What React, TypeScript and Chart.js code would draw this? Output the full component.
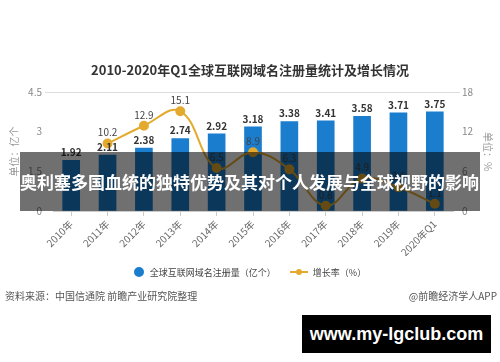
import React, { useEffect, useRef } from "react";
import { Chart, registerables } from "chart.js";

Chart.register(...registerables);

const categories = ["2010年", "2011年", "2012年", "2013年", "2014年", "2015年", "2016年", "2017年", "2018年", "2019年", "2020年Q1"];
const registrations = [1.92, 2.11, 2.38, 2.74, 2.92, 3.18, 3.38, 3.41, 3.58, 3.71, 3.75];
const growthRates = [null, 10.2, 12.9, 15.1, 6.5, 8.9, 6.3, 0.8, 4.9, 3.6, 1.1];
const leftAxis = { min: 0, max: 4.5, step: 1.5 };
const rightAxis = { min: 0, max: 18, step: 6 };

const FONT = "'Noto Sans CJK SC', 'Noto Sans', sans-serif";
const BAR_COLOR = "#1a7dcd";
const LINE_COLOR = "#e3aa2e";

const valueLabels = {
  id: "valueLabels",
  afterDatasetsDraw(chart: any) {
    const ctx = chart.ctx;
    chart.data.datasets.forEach((ds: any, i: number) => {
      const meta = chart.getDatasetMeta(i);
      meta.data.forEach((el: any, j: number) => {
        const v = ds.data[j];
        if (v == null) return;
        ctx.save();
        const isBar = ds.type === "bar";
        ctx.font = isBar ? `bold 10px ${FONT}` : `10px ${FONT}`;
        ctx.fillStyle = isBar ? "#333333" : "#444444";
        ctx.textAlign = "center";
        ctx.textBaseline = "bottom";
        ctx.fillText(String(v), el.x, el.y - (isBar ? 3 : 6));
        ctx.restore();
      });
    });
  },
};

export default function App() {
  const canvasRef = useRef<HTMLCanvasElement | null>(null);

  useEffect(() => {
    if (!canvasRef.current) return;
    const chart = new Chart(canvasRef.current, {
      type: "bar",
      data: {
        labels: categories,
        datasets: [
          {
            type: "line",
            label: "增长率（%）",
            data: growthRates,
            yAxisID: "y1",
            borderColor: LINE_COLOR,
            backgroundColor: LINE_COLOR,
            pointBackgroundColor: LINE_COLOR,
            pointBorderColor: LINE_COLOR,
            pointRadius: 4,
            borderWidth: 2,
            tension: 0.4,
            order: 0,
          } as any,
          {
            type: "bar",
            label: "全球互联网域名注册量（亿个）",
            data: registrations,
            yAxisID: "y",
            backgroundColor: BAR_COLOR,
            barThickness: 17,
            order: 1,
          } as any,
        ],
      },
      plugins: [valueLabels],
      options: {
        responsive: false,
        animation: false,
        layout: { padding: { top: 92, bottom: 106, left: 0, right: 0 } },
        plugins: { legend: { display: false }, tooltip: { enabled: false }, title: { display: false } },
        scales: {
          x: {
            offset: true,
            grid: { drawOnChartArea: false, drawTicks: true, tickLength: 5, color: "#cccccc", offset: false },
            border: { display: true, color: "#cccccc" },
            ticks: { minRotation: 45, maxRotation: 45, color: "#666666", font: { size: 10, family: FONT }, padding: 2 },
            afterFit(scale: any) {
              scale.height = 45;
            },
          },
          y: {
            position: "left",
            min: leftAxis.min,
            max: leftAxis.max,
            ticks: { stepSize: leftAxis.step, color: "#888888", font: { size: 10, family: FONT }, padding: 3 },
            grid: {
              color: (c: any) => (c.tick && c.tick.value === leftAxis.max ? "#dddddd" : "rgba(0,0,0,0)"),
              tickLength: 8,
            },
            border: { display: false },
            title: { display: true, text: "单位：亿个", color: "#999999", font: { size: 10, family: FONT }, padding: { top: 8, bottom: 0 } },
            afterFit(scale: any) {
              scale.width = 53;
            },
          },
          y1: {
            position: "right",
            min: rightAxis.min,
            max: rightAxis.max,
            ticks: { stepSize: rightAxis.step, color: "#888888", font: { size: 10, family: FONT }, padding: 2 },
            grid: {
              drawOnChartArea: false,
              color: (c: any) => (c.tick && c.tick.value === rightAxis.max ? "#dddddd" : "rgba(0,0,0,0)"),
              tickLength: 7,
            },
            border: { display: false },
            title: { display: true, text: "单位：%", color: "#999999", font: { size: 10, family: FONT }, padding: { top: 6, bottom: 0 } },
            afterFit(scale: any) {
              scale.width = 47;
            },
          },
        },
      } as any,
    });
    return () => chart.destroy();
  }, []);

  const abs = (s: React.CSSProperties): React.CSSProperties => ({ position: "absolute", ...s });

  return (
    <div style={{ position: "fixed", left: 0, top: 0, width: 500, height: 362, background: "#ffffff", fontFamily: FONT, overflow: "hidden" }}>
      <canvas ref={canvasRef} width={500} height={362} style={{ position: "absolute", left: 0, top: 0, width: 500, height: 362 }} />
      <div style={abs({ left: 0, top: 61, width: 500, textAlign: "center", fontWeight: "bold", fontSize: 13, color: "#333333", lineHeight: "18px" })}>
        2010-2020年Q1全球互联网域名注册量统计及增长情况
      </div>
      <div style={abs({ left: 0, top: 263, width: 500, height: 18, display: "flex", justifyContent: "center", alignItems: "center", fontSize: 9, color: "#444444" })}>
        <span style={{ display: "inline-block", width: 10, height: 10, borderRadius: "50%", background: BAR_COLOR, marginRight: 6 }} />
        <span>全球互联网域名注册量（亿个）</span>
        <span style={{ position: "relative", display: "inline-block", width: 18, height: 10, marginLeft: 14, marginRight: 5 }}>
          <span style={{ position: "absolute", left: 0, top: 4, width: 18, height: 2, background: LINE_COLOR }} />
          <span style={{ position: "absolute", left: 6, top: 2, width: 6, height: 6, borderRadius: "50%", background: LINE_COLOR }} />
        </span>
        <span>增长率（%）</span>
      </div>
      <div style={abs({ left: 5, top: 288, fontSize: 10, color: "#555555", lineHeight: "16px" })}>资料来源：中国信通院 前瞻产业研究院整理</div>
      <div style={abs({ right: 3, top: 288, fontSize: 10, color: "#555555", lineHeight: "16px" })}>@前瞻经济学人APP</div>
      <div style={abs({ left: 20, top: 152, width: 460, height: 59, background: "rgba(0,0,0,0.56)", color: "#ffffff", fontWeight: "bold", fontSize: 17, lineHeight: "59px", whiteSpace: "nowrap", overflow: "hidden" })}>
        奥利塞多国血统的独特优势及其对个人发展与全球视野的影响
      </div>
      <div style={abs({ left: 302, top: 315, width: 189, height: 38, background: "#000000", color: "#ffffff", fontWeight: "bold", fontSize: 18, lineHeight: "38px", textAlign: "center", fontFamily: "'Liberation Sans', Arial, sans-serif" })}>
        www.my-lgclub.com
      </div>
    </div>
  );
}
